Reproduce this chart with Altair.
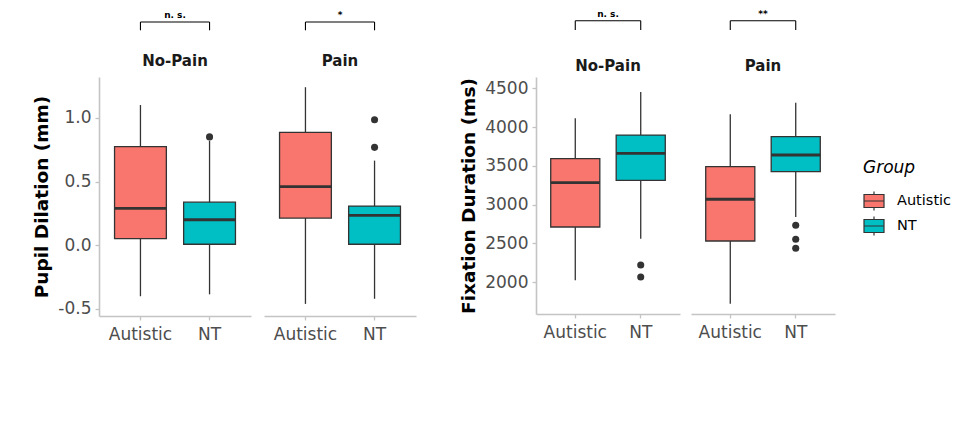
import altair as alt
import pandas as pd

# ---------------- data ----------------
groups = ["Autistic", "NT"]
conditions = ["No-Pain", "Pain"]
group_colors = ["#F8766D", "#00BFC4"]

box_condition = ["No-Pain", "No-Pain", "Pain", "Pain"]
box_group = ["Autistic", "NT", "Autistic", "NT"]

# Pupil dilation (mm)
pupil_low = [-0.40, -0.385, -0.46, -0.42]
pupil_q1 = [0.052, 0.008, 0.213, 0.008]
pupil_median = [0.29, 0.20, 0.46, 0.234]
pupil_q3 = [0.773, 0.338, 0.885, 0.307]
pupil_high = [1.10, 0.82, 1.24, 0.664]
pupil_out_condition = ["No-Pain", "Pain", "Pain"]
pupil_out_group = ["NT", "NT", "NT"]
pupil_out_value = [0.85, 0.985, 0.768]
pupil_sig = ["n. s.", "*"]
pupil_ticks = [-0.5, 0.0, 0.5, 1.0]

# Fixation duration (ms)
fix_low = [2022, 2559, 1720, 2839]
fix_q1 = [2710, 3313, 2529, 3424]
fix_median = [3282, 3661, 3068, 3639]
fix_q3 = [3592, 3897, 3488, 3876]
fix_high = [4113, 4452, 4164, 4314]
fix_out_condition = ["No-Pain", "No-Pain", "Pain", "Pain", "Pain"]
fix_out_group = ["NT", "NT", "NT", "NT", "NT"]
fix_out_value = [2220, 2065, 2732, 2551, 2435]
fix_sig = ["n. s.", "**"]
fix_ticks = [2000, 2500, 3000, 3500, 4000, 4500]

FONT = "DejaVu Sans"
DARK = "#333333"
AXIS_GRAY = "#c4c4c4"


def box_table(low, q1, med, q3, high):
    return pd.DataFrame({
        "condition": box_condition, "group": box_group,
        "low": low, "q1": q1, "median": med, "q3": q3, "high": high,
    })


def out_table(cond, grp, val):
    return pd.DataFrame({"condition": cond, "group": grp, "value": val})


legend_path = "M-1,-0.65H1V0.65H-1Z M-1,0H1 M0,-0.95V-0.65 M0,0.65V0.95"
fill_scale = alt.Scale(domain=groups, range=group_colors)
legend = alt.Legend(
    title="Group", orient="none", legendX=764, legendY=83,
    symbolType=legend_path, symbolSize=400, symbolStrokeColor=DARK,
    symbolStrokeWidth=1.2, titleFontStyle="italic", titleFontWeight="normal",
    titleFontSize=17, titleFont=FONT, titleColor="black", labelFont=FONT,
    labelFontSize=14.5, labelColor="black", rowPadding=1, titlePadding=13,
    labelOffset=12,
)


def subplot(boxes, outs, sig, cond, w, h, ydom, yticks, yfmt, ytitle, show_y,
            br_top, br_bot, sig_base, cond_base):
    xs = alt.Scale(domain=groups, paddingInner=0, paddingOuter=0.1)
    xaxis = alt.Axis(title=None, labelAngle=0, ticks=True, labelPadding=6)
    ys = alt.Scale(domain=ydom, nice=False, zero=False)
    if show_y:
        yaxis = alt.Axis(title=ytitle, values=yticks, format=yfmt, grid=False,
                         labelExpr="replace(datum.label, '\u2212', '-')")
    else:
        yaxis = None
    box_w = 0.75 * w / 2.2

    def X(f):
        return alt.X(f, scale=xs, axis=xaxis, title=None)

    def Y(f):
        return alt.Y(f, scale=ys, axis=yaxis, title=ytitle if show_y else None)

    bdf = boxes[boxes["condition"] == cond]
    odf = outs[outs["condition"] == cond]
    base = alt.Chart(bdf)
    whisk = base.mark_rule(color=DARK, strokeWidth=1.3).encode(
        x=X("group:N"), y=Y("low:Q"), y2="high:Q")
    box = base.mark_bar(width=alt.RelativeBandSize(0.75), stroke=DARK,
                        strokeWidth=1.3).encode(
        x=X("group:N"), y=Y("q1:Q"), y2="q3:Q",
        fill=alt.Fill("group:N", scale=fill_scale, legend=legend))
    med = base.mark_tick(color=DARK, thickness=2.8, opacity=1,
                         size=box_w).encode(
        x=X("group:N"), y=Y("median:Q"))
    pts = alt.Chart(odf).mark_circle(size=50, color=DARK, opacity=1).encode(
        x=X("group:N"), y=Y("value:Q"))

    br = pd.DataFrame({"g1": [groups[0]], "g2": [groups[1]], "label": [sig],
                       "condition": [cond]})
    ends = pd.DataFrame({"g": groups})
    hline = alt.Chart(br).mark_rule(color="black", strokeWidth=1.1).encode(
        x=X("g1:N"), x2="g2:N", y=alt.value(br_top))
    vlines = alt.Chart(ends).mark_rule(color="black", strokeWidth=1.1).encode(
        x=X("g:N"), y=alt.value(br_top), y2=alt.value(br_bot))
    sig_text = alt.Chart(br).mark_text(
        font=FONT, fontSize=9, fontWeight="bold", baseline="alphabetic",
        color="black").encode(x=alt.value(w / 2), y=alt.value(sig_base),
                              text="label:N")
    cond_text = alt.Chart(br).mark_text(
        font=FONT, fontSize=15, fontWeight="bold", baseline="alphabetic",
        color="#1a1a1a").encode(x=alt.value(w / 2), y=alt.value(cond_base),
                                text="condition:N")
    return alt.layer(whisk, box, med, pts, hline, vlines, sig_text,
                     cond_text).properties(width=w, height=h)


pupil_boxes = box_table(pupil_low, pupil_q1, pupil_median, pupil_q3, pupil_high)
pupil_outs = out_table(pupil_out_condition, pupil_out_group, pupil_out_value)
fix_boxes = box_table(fix_low, fix_q1, fix_median, fix_q3, fix_high)
fix_outs = out_table(fix_out_condition, fix_out_group, fix_out_value)

left = alt.hconcat(*[
    subplot(pupil_boxes, pupil_outs, pupil_sig[i], c, 152, 239,
            [-0.555, 1.32], pupil_ticks, ".1f", "Pupil Dilation (mm)", i == 0,
            -55, -46.7, -58.7, -11)
    for i, c in enumerate(conditions)
], spacing=13)

right = alt.hconcat(*[
    subplot(fix_boxes, fix_outs, fix_sig[i], c, 144, 237,
            [1587, 4646], fix_ticks, "d", "Fixation Duration (ms)", i == 0,
            -56.3, -47, -60.3, -6)
    for i, c in enumerate(conditions)
], spacing=11)

chart = alt.hconcat(left, right, spacing=43).resolve_scale(
    fill="shared").properties(
    padding={"left": 24, "top": 1, "right": 5, "bottom": 5}
).configure(background="white").configure_view(stroke=None).configure_axis(
    labelFont=FONT, labelFontSize=17, labelColor="#4d4d4d",
    domainColor=AXIS_GRAY, domainWidth=1.6, tickColor=AXIS_GRAY,
    tickWidth=1.3, tickSize=4, labelPadding=4, grid=False,
    titleFont=FONT, titleFontSize=18.5, titleFontWeight="bold",
    titleColor="black", titlePadding=6,
)

chart.save("out.html", embed_options={"renderer": "svg", "actions": False})
